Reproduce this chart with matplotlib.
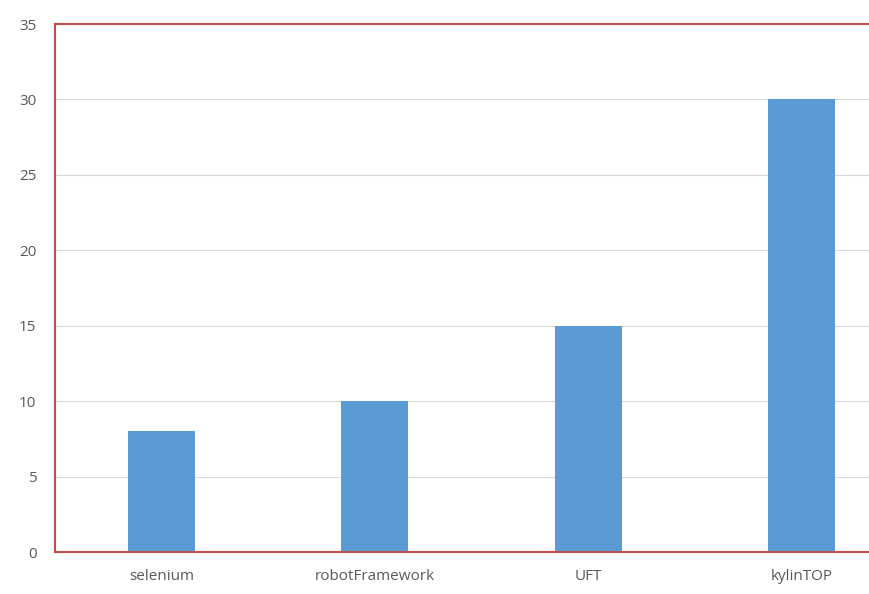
import matplotlib.pyplot as plt

tools = ["selenium", "robotFramework", "UFT", "kylinTOP"]
scores = [8, 10, 15, 30]
yticks = [0, 5, 10, 15, 20, 25, 30, 35]

plt.rcParams['font.family'] = ['Open Sans', 'DejaVu Sans']

fig = plt.figure(figsize=(8.69, 5.94), dpi=100)
# axes runs past the right edge of the image, like the original
ax = fig.add_axes([54.5/869, (594-552)/594, 854/869, 528/594])

ax.bar(range(len(tools)), scores, width=0.314, color="#5b9bd5", zorder=2)

ax.set_xlim(-0.5, 3.5)
ax.set_ylim(0, 35)
ax.set_yticks(yticks)
ax.set_xticks(range(len(tools)))
ax.set_xticklabels(tools)
ax.grid(axis="y", color="#d9d9d9", linewidth=0.8, zorder=0)

for side in ["top", "left", "bottom", "right"]:
    ax.spines[side].set_color("#c0504d")
    ax.spines[side].set_linewidth(1.5)

ax.tick_params(length=0, labelsize=11, labelcolor="#595959")
ax.tick_params(axis="x", pad=12)
ax.tick_params(axis="y", pad=13)

fig.savefig("out.png", dpi=100)
